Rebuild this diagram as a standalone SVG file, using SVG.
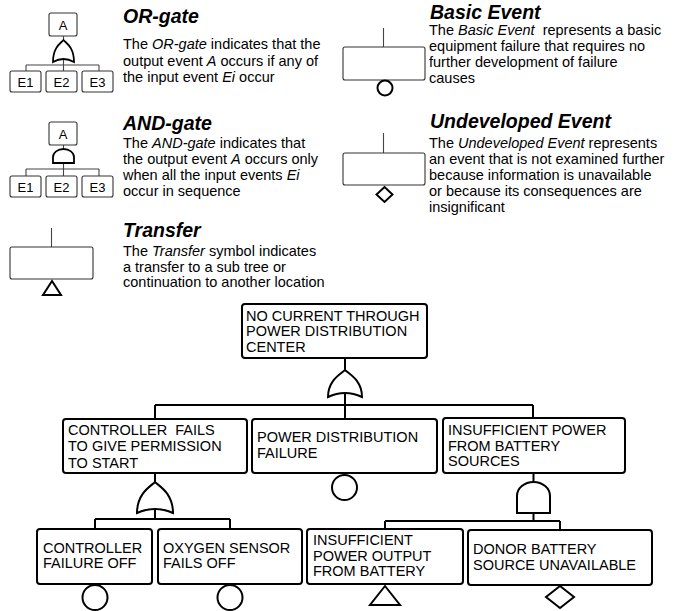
<svg xmlns="http://www.w3.org/2000/svg" width="675" height="611" viewBox="0 0 675 611">
<style>
text{font-family:"Liberation Sans",Arial,Helvetica,sans-serif;fill:#000}
.title{font-size:19.5px;font-weight:bold;font-style:italic}
.body{font-size:14.5px}
.it{font-style:italic}
.lbox{fill:#fff;stroke:#333;stroke-width:1.1}
.lline{fill:none;stroke:#444;stroke-width:1.1}
.lsym{fill:#fff;stroke:#000;stroke-width:2}
.box{fill:#fff;stroke:#000;stroke-width:2}
.btxt{font-size:14.5px;white-space:pre}
.conn{fill:none;stroke:#000;stroke-width:2}
.gate{fill:#fff;stroke:#000;stroke-width:2}
.sym{fill:#fff;stroke:#000;stroke-width:2}
.small{font-size:13px;text-anchor:middle}
</style>

<g id="legend-or">
  <rect class="lbox" x="49" y="13" width="28" height="23" rx="2"/>
  <text class="small" x="63" y="29.5">A</text>
  <path class="lline" d="M63.5 36V40M63.5 59V65M26 65H99M26 65V71M63.5 65V71M99 65V71"/>
  <path class="gate" style="stroke-width:1.8" d="M63.5 40C66 43 74 47 74 62Q63.5 56 53 62C53 47 61 43 63.5 40Z"/>
  <rect class="lbox" x="10" y="71" width="31" height="21" rx="2"/>
  <rect class="lbox" x="46" y="71" width="31" height="21" rx="2"/>
  <rect class="lbox" x="82" y="71" width="31" height="21" rx="2"/>
  <text class="small" x="25.5" y="86.5">E1</text>
  <text class="small" x="61.5" y="86.5">E2</text>
  <text class="small" x="97.5" y="86.5">E3</text>
  <text class="title" x="123" y="23">OR-gate</text>
  <text class="body" x="123" y="49">The <tspan class="it">OR-gate</tspan> indicates that the</text>
  <text class="body" x="123" y="65.5">output event <tspan class="it">A</tspan> occurs if any of</text>
  <text class="body" x="123" y="82">the input event <tspan class="it">Ei</tspan> occur</text>
</g>

<g id="legend-and">
  <rect class="lbox" x="49" y="122" width="28" height="23" rx="2"/>
  <text class="small" x="63" y="138.5">A</text>
  <path class="lline" d="M63.5 145V149M63.5 163V169M26 169H99M26 169V176M63.5 169V176M99 169V176"/>
  <path class="gate" style="stroke-width:1.8" d="M53 163V157A10.5 8 0 0 1 74 157V163Z"/>
  <rect class="lbox" x="10" y="176" width="31" height="21" rx="2"/>
  <rect class="lbox" x="46" y="176" width="31" height="21" rx="2"/>
  <rect class="lbox" x="82" y="176" width="31" height="21" rx="2"/>
  <text class="small" x="25.5" y="191.5">E1</text>
  <text class="small" x="61.5" y="191.5">E2</text>
  <text class="small" x="97.5" y="191.5">E3</text>
  <text class="title" x="123" y="130">AND-gate</text>
  <text class="body" x="123" y="148">The <tspan class="it">AND-gate</tspan> indicates that</text>
  <text class="body" x="123" y="164">the output event <tspan class="it">A</tspan> occurs only</text>
  <text class="body" x="123" y="180">when all the input events <tspan class="it">Ei</tspan></text>
  <text class="body" x="123" y="196">occur in sequence</text>
</g>

<g id="legend-transfer">
  <path class="lline" d="M51.5 228V247"/>
  <rect class="lbox" x="10" y="247" width="83" height="32" rx="2"/>
  <path class="lsym" d="M52 281L61 295H43Z"/>
  <text class="title" x="123" y="237">Transfer</text>
  <text class="body" x="123" y="256">The <tspan class="it">Transfer</tspan> symbol indicates</text>
  <text class="body" x="123" y="271.5">a transfer to a sub tree or</text>
  <text class="body" x="123" y="287">continuation to another location</text>
</g>

<g id="legend-basic">
  <path class="lline" d="M383.5 28V47"/>
  <rect class="lbox" x="343" y="47" width="82" height="33" rx="2"/>
  <circle class="lsym" cx="385" cy="88" r="7.5"/>
  <text class="title" x="430" y="19">Basic Event</text>
  <text class="body" x="429" y="35" style="white-space:pre">The <tspan class="it">Basic Event</tspan>  represents a basic</text>
  <text class="body" x="429" y="51">equipment failure that requires no</text>
  <text class="body" x="429" y="67">further development of failure</text>
  <text class="body" x="429" y="82.5">causes</text>
</g>

<g id="legend-undeveloped">
  <path class="lline" d="M383.5 133V153"/>
  <rect class="lbox" x="343" y="153" width="82" height="32" rx="2"/>
  <path class="lsym" d="M384.5 187L392.5 194.5L384.5 202L376.5 194.5Z"/>
  <text class="title" x="430" y="128">Undeveloped Event</text>
  <text class="body" x="429" y="148">The <tspan class="it">Undeveloped Event</tspan> represents</text>
  <text class="body" x="429" y="164">an event that is not examined further</text>
  <text class="body" x="429" y="180">because information is unavailable</text>
  <text class="body" x="429" y="196">or because its consequences are</text>
  <text class="body" x="429" y="212">insignificant</text>
</g>

<g id="connectors">
  <path class="conn" d="M345 358V370M345 393V405M155 405H533M155 405V419M345 405V419M533 405V419"/>
  <path class="conn" d="M155 473V482M155 509V519M95 519H230M95 519V529M230 519V529"/>
  <path class="conn" d="M533.5 473V482M533.5 513V521M385 521H560M385 521V529M560 521V530"/>
</g>

<g id="gate-top-or">
  <path class="gate" d="M345 370C349 374 362 380 362 397Q345 389 328 397C328 380 341 374 345 370Z"/>
</g>
<g id="gate-controller-or">
  <path class="gate" d="M155 482C159 486 173 493 173 513Q155 505 137 513C137 493 151 486 155 482Z"/>
</g>
<g id="gate-battery-and">
  <path class="gate" d="M517 513V496A16.5 14 0 0 1 550 496V513Z"/>
</g>

<g id="node-top">
  <rect class="box" x="242" y="304" width="185" height="54" rx="3"/>
  <text class="btxt" x="246" y="320.5">NO CURRENT THROUGH</text>
  <text class="btxt" x="246" y="336">POWER DISTRIBUTION</text>
  <text class="btxt" x="246" y="352">CENTER</text>
</g>

<g id="node-controller">
  <rect class="box" x="63" y="419" width="184" height="54" rx="3"/>
  <text class="btxt" x="68" y="435">CONTROLLER  FAILS</text>
  <text class="btxt" x="68" y="451">TO GIVE PERMISSION</text>
  <text class="btxt" x="68" y="468">TO START</text>
</g>

<g id="node-pdf">
  <rect class="box" x="252" y="419" width="185" height="54" rx="3"/>
  <text class="btxt" x="257" y="442">POWER DISTRIBUTION</text>
  <text class="btxt" x="257" y="458">FAILURE</text>
  <circle class="sym" cx="344.5" cy="487.5" r="12.5"/>
</g>

<g id="node-battery-sources">
  <rect class="box" x="443" y="418" width="182" height="55" rx="3"/>
  <text class="btxt" x="448" y="435">INSUFFICIENT POWER</text>
  <text class="btxt" x="448" y="450.5">FROM BATTERY</text>
  <text class="btxt" x="448" y="466">SOURCES</text>
</g>

<g id="node-controller-failure">
  <rect class="box" x="37" y="529" width="115" height="55" rx="3"/>
  <text class="btxt" x="43" y="553">CONTROLLER</text>
  <text class="btxt" x="43" y="568">FAILURE OFF</text>
  <circle class="sym" cx="95" cy="597.5" r="12.5"/>
</g>

<g id="node-oxygen">
  <rect class="box" x="158" y="529" width="144" height="55" rx="3"/>
  <text class="btxt" x="163" y="553">OXYGEN SENSOR</text>
  <text class="btxt" x="163" y="568">FAILS OFF</text>
  <circle class="sym" cx="230" cy="597.5" r="12.5"/>
</g>

<g id="node-battery-output">
  <rect class="box" x="307" y="529" width="156" height="55" rx="3"/>
  <text class="btxt" x="313" y="545">INSUFFICIENT</text>
  <text class="btxt" x="313" y="561">POWER OUTPUT</text>
  <text class="btxt" x="313" y="576">FROM BATTERY</text>
  <path class="sym" d="M385 586L400 605H370Z"/>
</g>

<g id="node-donor">
  <rect class="box" x="468" y="530" width="184" height="55" rx="3"/>
  <text class="btxt" x="473" y="554">DONOR BATTERY</text>
  <text class="btxt" x="473" y="570">SOURCE UNAVAILABLE</text>
  <path class="sym" d="M560 586L574 597L560 608L546 597Z"/>
</g>
</svg>
